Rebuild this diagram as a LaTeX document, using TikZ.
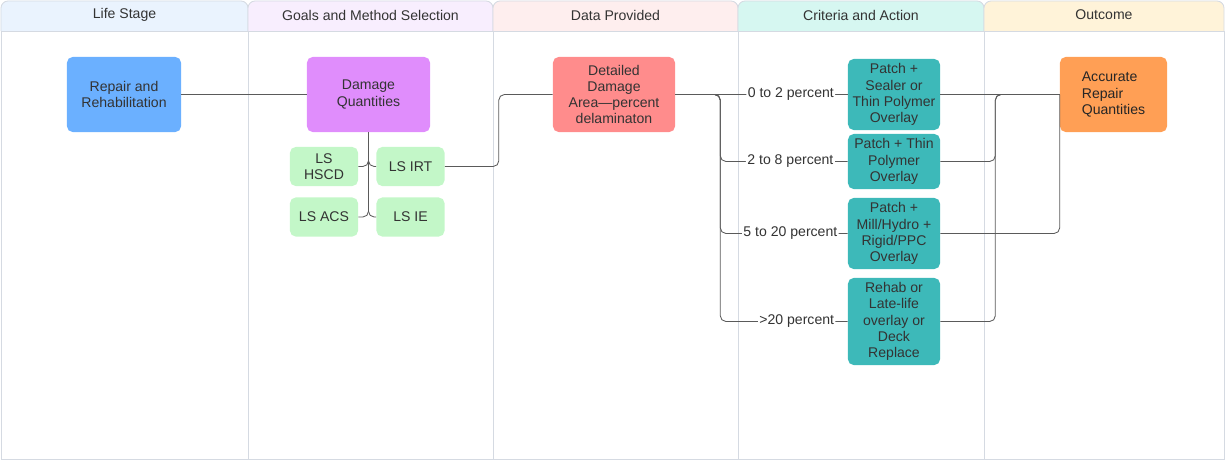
\documentclass[tikz,border=0pt]{standalone}
\usepackage{fontspec}
\setmainfont{Liberation Sans}
\usetikzlibrary{positioning,calc}
\definecolor{inkgray}{HTML}{333333}
\definecolor{wiregray}{HTML}{5A5A5A}
\definecolor{lanegray}{HTML}{D5DAE2}
\definecolor{hdlife}{HTML}{EAF3FE}
\definecolor{hdgoal}{HTML}{F8EEFE}
\definecolor{hddata}{HTML}{FEEEEE}
\definecolor{hdcrit}{HTML}{D6F7F1}
\definecolor{hdout}{HTML}{FFF3D9}
\definecolor{stageblue}{HTML}{6BB0FF}
\definecolor{goalviolet}{HTML}{E08DFC}
\definecolor{methgreen}{HTML}{C3F7C8}
\definecolor{datared}{HTML}{FF8C8C}
\definecolor{acteal}{HTML}{3DB9B9}
\definecolor{outorange}{HTML}{FF9F55}
\newcommand\flowfont{\fontsize{10}{11.5}\selectfont}
\tikzset{
  flowbox/.style={rounded corners=4pt, align=center, font=\flowfont,
    text=inkgray, inner sep=2pt},
  methbox/.style={flowbox, fill=methgreen, minimum width=1.7cm, minimum height=0.975cm},
  actbox/.style={flowbox, fill=acteal, minimum width=2.3cm},
  link/.style={draw=wiregray, line width=0.6pt, rounded corners=4pt},
  lbl/.style={font=\flowfont, text=inkgray, fill=white, inner sep=1pt},
  lanehead/.style={draw=lanegray, line width=0.6pt, rounded corners=5pt},
  laneline/.style={draw=lanegray, line width=0.6pt},
  hdtext/.style={font=\flowfont, text=inkgray},
}

\begin{document}
\begin{tikzpicture}[x=0.025cm, y=-0.025cm]
  \useasboundingbox (0,0) rectangle (1225,460);
  % lanes
  \draw[lanehead, fill=hdlife] (1,31) -- (1,1) -- (248,1) -- (248,31);
  \draw[lanehead, fill=hdgoal] (248,31) -- (248,1) -- (493,1) -- (493,31);
  \draw[lanehead, fill=hddata] (493,31) -- (493,1) -- (738,1) -- (738,31);
  \draw[lanehead, fill=hdcrit] (738,31) -- (738,1) -- (984,1) -- (984,31);
  \draw[lanehead, fill=hdout] (984,31) -- (984,1) -- (1224,1) -- (1224,31);
  \node[hdtext] (hlife) at (124.5,15) {Life Stage};
  \node[hdtext] (hgoal) at (370.5,15) {Goals and Method Selection};
  \node[hdtext] (hdata) at (615.5,15) {Data Provided};
  \node[hdtext] (hcrit) at (861,15) {Criteria and Action};
  \node[hdtext] (hout) at (1104,15) {Outcome};
  \draw[laneline] (1,31) -- (1224,31);
  \draw[laneline] (1,31) -- (1,459) -- (1224,459) -- (1224,31);
  \draw[laneline] (248,31) -- (248,459);
  \draw[laneline] (493,31) -- (493,459);
  \draw[laneline] (738,31) -- (738,459);
  \draw[laneline] (984,31) -- (984,459);

  % boxes
  \node[flowbox, fill=stageblue, minimum width=2.85cm, minimum height=1.875cm] (rr) at (124,94.5) {Repair and\\Rehabilitation};
  \node[flowbox, fill=goalviolet, minimum width=3.075cm, minimum height=1.875cm] (dq) at (368.5,94.5) {Damage\\Quantities};
  \node[methbox] (hscd) at (324,166.5) {LS\\HSCD};
  \node[methbox] (irt) at (410.5,166.5) {LS IRT};
  \node[methbox] (acs) at (324,217) {LS ACS};
  \node[methbox] (ie) at (410.5,217) {LS IE};
  \node[flowbox, fill=datared, minimum width=3.05cm, minimum height=1.875cm] (dda) at (614,94.5) {Detailed\\Damage\\Area---percent\\delaminaton};
  \node[actbox, minimum height=1.775cm] (c1) at (894,94.5) {Patch +\\Sealer or\\Thin Polymer\\Overlay};
  \node[actbox, minimum height=1.375cm] (c2) at (894,161.5) {Patch + Thin\\Polymer\\Overlay};
  \node[actbox, minimum height=1.775cm] (c3) at (894,233.5) {Patch +\\Mill/Hydro +\\Rigid/PPC\\Overlay};
  \node[actbox, minimum height=2.175cm] (c4) at (894,321.5) {Rehab or\\Late-life\\overlay or\\Deck\\Replace};
  \node[flowbox, fill=outorange, align=left, text=black!85, minimum width=2.675cm, minimum height=1.875cm] (arq) at (1113.5,94.5) {Accurate\\Repair\\Quantities};

  % connectors
  \draw[link] (rr.east) -- (dq.west);
  \draw[link] (dq.south) |- (hscd.east);
  \draw[link] (dq.south) |- (irt.west);
  \draw[link] (dq.south) |- (acs.east);
  \draw[link] (dq.south) |- (ie.west);
  \draw[link] (irt.east) -- ++(54,0) |- (dda.west);
  \draw[link] (dda.east) -- node[lbl, pos=0.67]{0 to 2 percent} (c1.west);
  \draw[link] (dda.east) -- ++(45,0) |- node[lbl, pos=0.775]{2 to 8 percent} (c2.west);
  \draw[link] (dda.east) -- ++(45,0) |- node[lbl, pos=0.775]{5 to 20 percent} (c3.west);
  \draw[link] (dda.east) -- ++(45,0) |- node[lbl, pos=0.8]{>20 percent} (c4.west);
  \draw[link] (c1.east) -- (arq.west);
  \draw[link] (c2.east) -- ++(55,0) |- (arq.west);
  \draw[link] (c3.east) -| (arq.west);
  \draw[link] (c4.east) -- ++(55,0) |- (arq.west);
\end{tikzpicture}
\end{document}
